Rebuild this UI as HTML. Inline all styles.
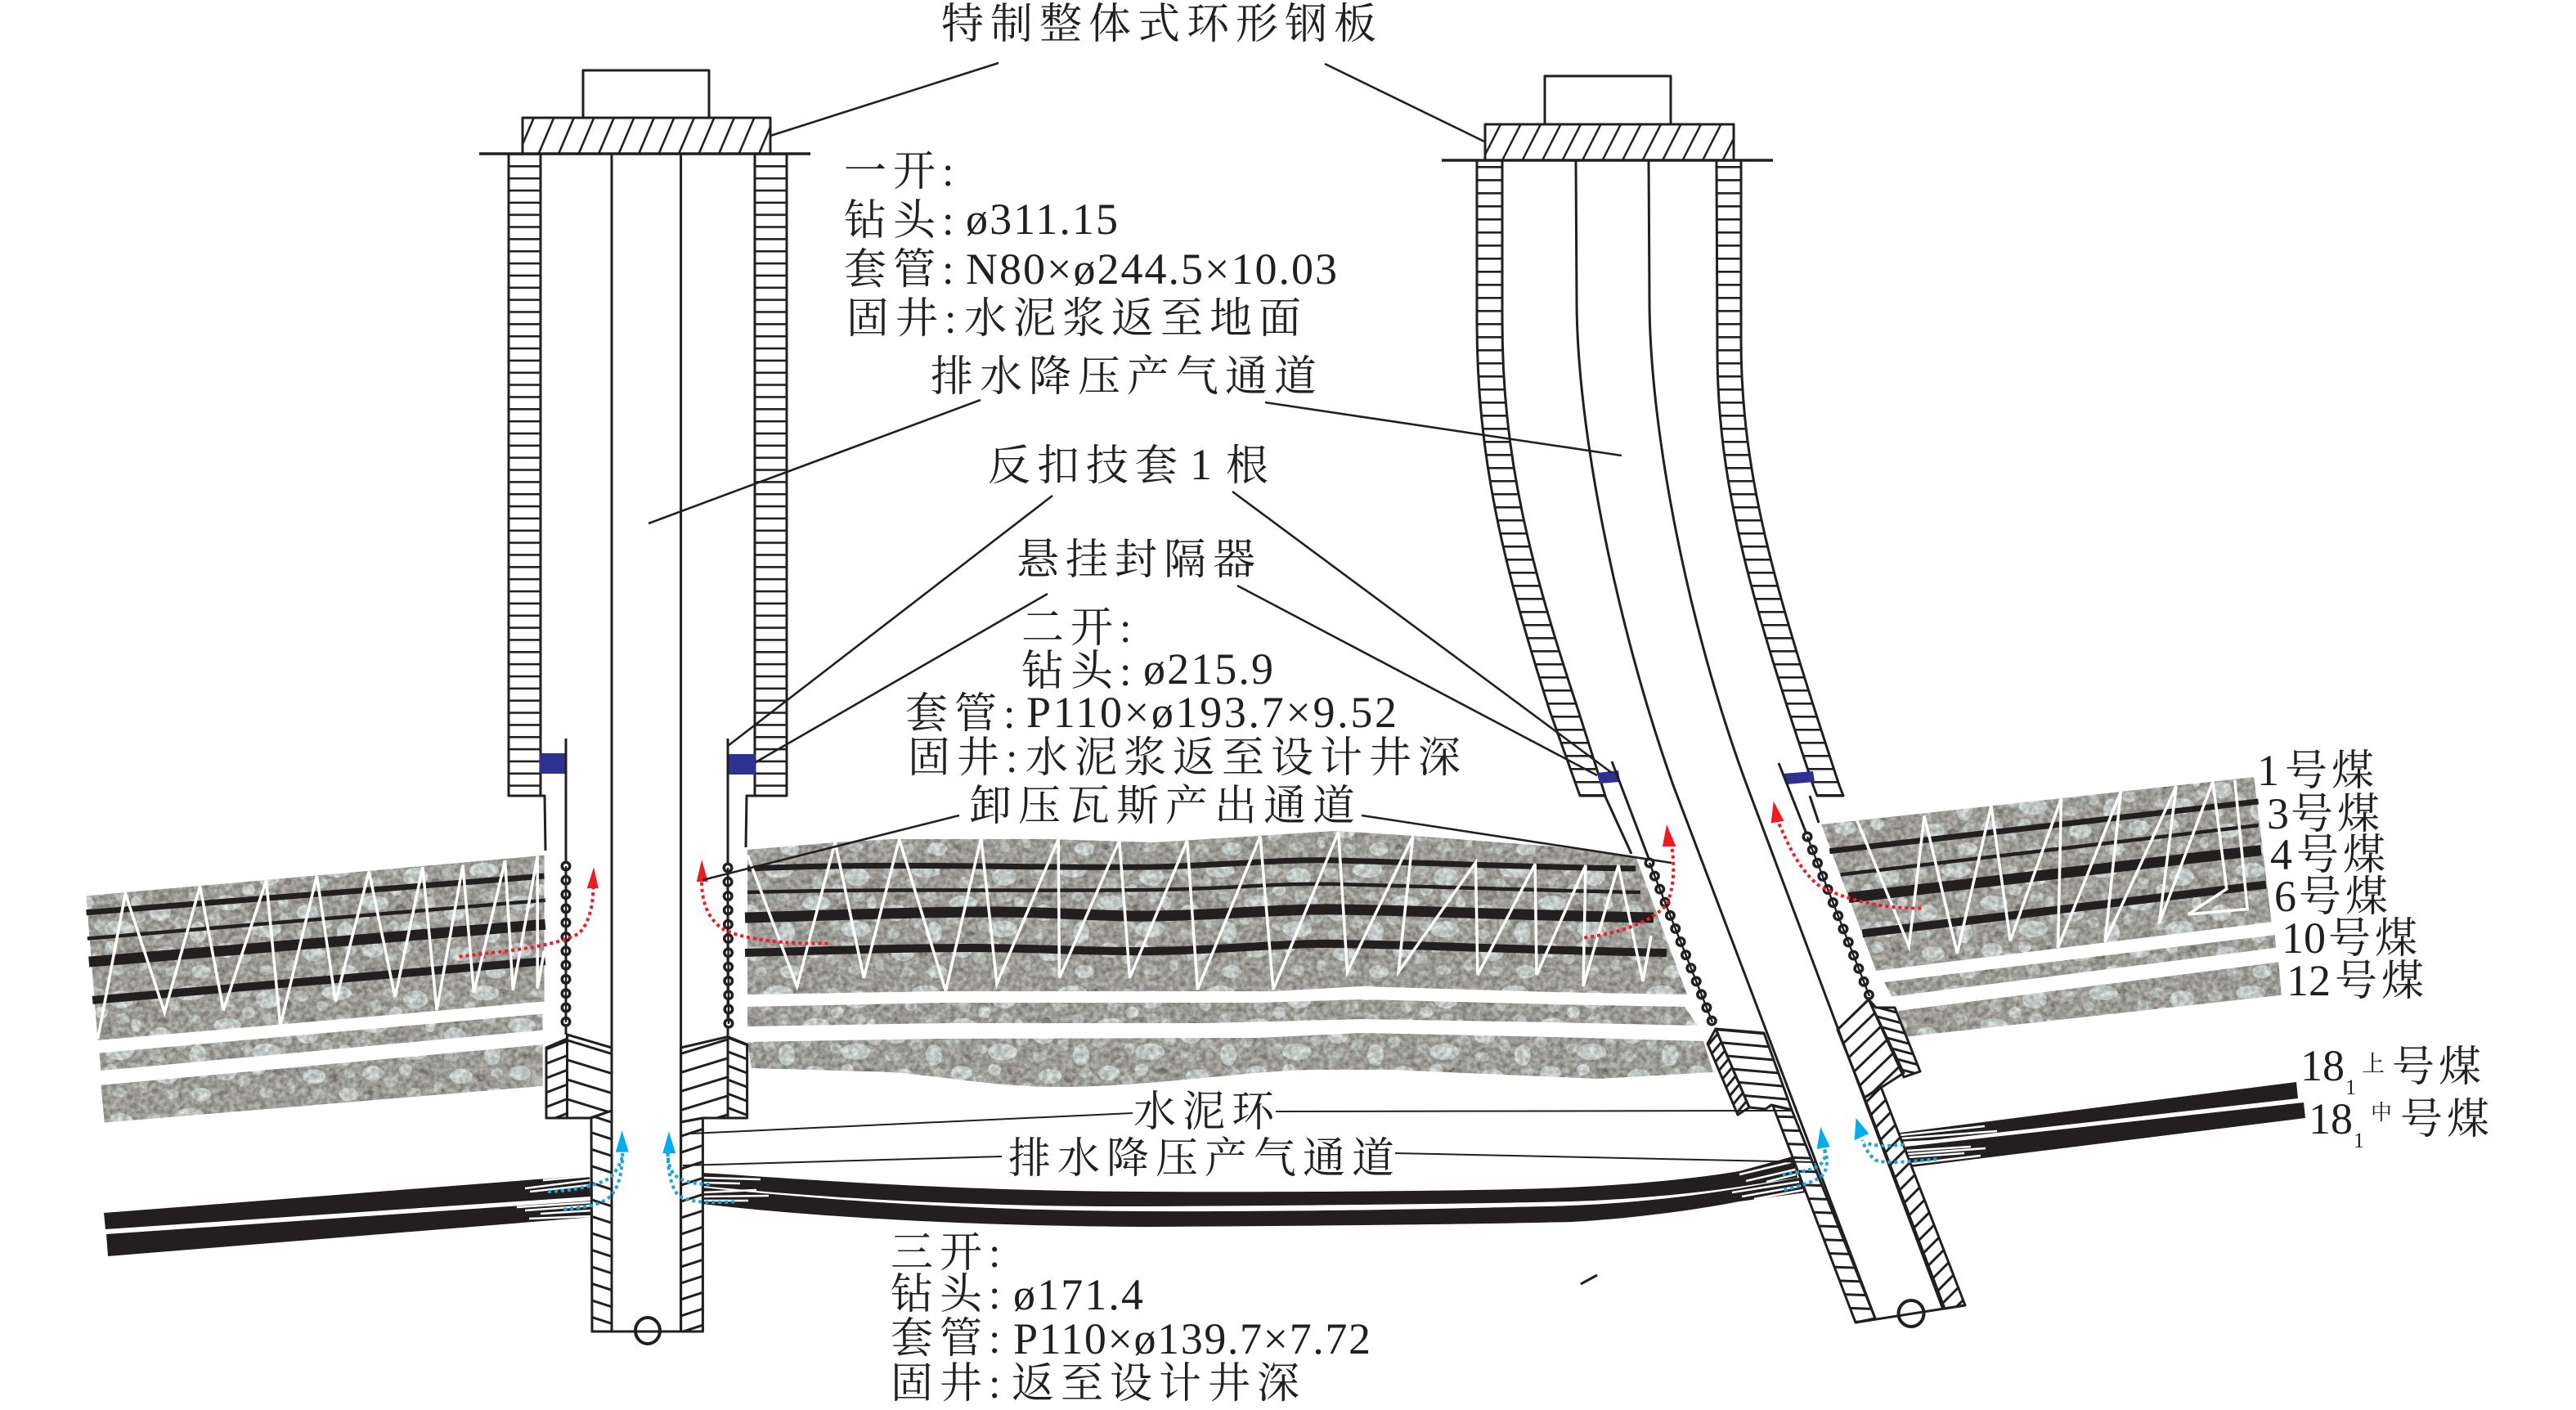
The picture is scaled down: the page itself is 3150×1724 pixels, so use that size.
<!DOCTYPE html>
<html lang="zh">
<head>
<meta charset="utf-8">
<title>井身结构示意图</title>
<style>
html,body{margin:0;padding:0;background:#fff}
svg{display:block}
text{font-family:"Liberation Serif","Noto Serif CJK SC",serif;fill:#231f20}
.c{font-size:52px;letter-spacing:8px;transform:translateY(2px)}
.d{font-size:54px;transform:translateY(1px)}
.n *{vector-effect:non-scaling-stroke}
.ln{fill:none;stroke:#231f20;stroke-width:3;stroke-linejoin:round}
.w{fill:none;stroke:#fff;stroke-width:3.5;stroke-linejoin:miter}
.wf{fill:none;stroke:#fff;stroke-width:2.6}
.s{fill:none;stroke:#231f20}
.red{fill:none;stroke:#ed1c24;stroke-width:4;stroke-dasharray:4 4}
.blue{fill:none;stroke:#1ba5dc;stroke-width:4;stroke-dasharray:4 4}
.k{fill:#231f20}
</style>
</head>
<body>
<svg xmlns="http://www.w3.org/2000/svg" width="3150" height="1724" viewBox="0 0 3150 1724">
<defs>
<pattern id="stone" patternUnits="userSpaceOnUse" width="180" height="150">
  <rect width="180" height="150" fill="#9c9a92"/>
  <g fill="#7d7870">
    <ellipse cx="20" cy="48" rx="7" ry="4"/><ellipse cx="75" cy="12" rx="8" ry="3"/><ellipse cx="130" cy="60" rx="6" ry="5"/><ellipse cx="160" cy="110" rx="8" ry="4"/><ellipse cx="48" cy="118" rx="6" ry="5"/><ellipse cx="105" cy="92" rx="6" ry="3"/><ellipse cx="92" cy="136" rx="7" ry="3"/><ellipse cx="172" cy="28" rx="5" ry="4"/>
  </g>
  <g fill="#bcc3be">
    <ellipse cx="8" cy="18" rx="9" ry="7"/><ellipse cx="34" cy="30" rx="7" ry="6"/><ellipse cx="58" cy="46" rx="8" ry="6"/><ellipse cx="100" cy="30" rx="7" ry="8"/><ellipse cx="118" cy="14" rx="9" ry="6"/><ellipse cx="150" cy="46" rx="8" ry="7"/><ellipse cx="170" cy="72" rx="8" ry="6"/><ellipse cx="122" cy="82" rx="7" ry="6"/><ellipse cx="84" cy="74" rx="8" ry="7"/><ellipse cx="40" cy="78" rx="7" ry="7"/><ellipse cx="12" cy="92" rx="9" ry="6"/><ellipse cx="30" cy="138" rx="8" ry="6"/><ellipse cx="68" cy="112" rx="7" ry="6"/><ellipse cx="118" cy="122" rx="8" ry="7"/><ellipse cx="146" cy="136" rx="9" ry="6"/><ellipse cx="176" cy="130" rx="6" ry="7"/>
  </g>
  <g fill="#d3dcd9">
    <ellipse cx="52" cy="14" rx="18" ry="9"/><ellipse cx="148" cy="22" rx="15" ry="11"/><ellipse cx="16" cy="66" rx="13" ry="10"/><ellipse cx="98" cy="54" rx="17" ry="9"/><ellipse cx="62" cy="90" rx="10" ry="13"/><ellipse cx="146" cy="86" rx="18" ry="10"/><ellipse cx="24" cy="116" rx="14" ry="9"/><ellipse cx="96" cy="112" rx="13" ry="9"/><ellipse cx="136" cy="108" rx="8" ry="7"/><ellipse cx="66" cy="138" rx="12" ry="8"/><ellipse cx="166" cy="54" rx="6" ry="8"/><ellipse cx="124" cy="38" rx="8" ry="7"/>
  </g>
</pattern>
<filter id="grainF" filterUnits="userSpaceOnUse" x="0" y="950" width="3150" height="500" color-interpolation-filters="sRGB">
  <feTurbulence type="fractalNoise" baseFrequency="0.16" numOctaves="2" seed="5"/>
  <feColorMatrix type="matrix" values="1.4 0 0 0 -.08  1.4 0 0 0 -.08  1.4 0 0 0 -.08  0 0 0 0 1"/>
</filter>
<clipPath id="rocks">
  <polygon transform="translate(80 880) scale(.6378 .5383)" points="40,400 918,308 918,640 62,728"/>
  <polygon transform="translate(80 880) scale(.6378 .5383)" points="65,757 915,668 915,705 68,797"/>
  <polygon transform="translate(80 880) scale(.6378 .5383)" points="68,830 915,738 915,832 75,915"/>
  <polygon points="914,1039 1021,1030 1091,1026 1283,1026 1410,1030 1538,1022 1633,1016 1729,1022 1900,1035 2000,1047 2063,1216 1900,1213 1665,1206 1557,1212 1155,1212 914,1216"/>
  <polygon points="914,1231 1155,1226 1538,1226 1665,1222 1900,1228 2060,1231 2076,1254 1900,1250 1665,1246 1474,1251 1155,1251 914,1255"/>
  <path d="M914 1274L1155 1270L1538 1269L1665 1263L1900 1268L2083 1273L2095 1311L1955 1319L1700 1308L1601 1308C1520 1310 1400 1329 1295 1329C1200 1329 1130 1310 1059 1310L919 1306Z"/>
  <polygon transform="translate(2100 880) scale(.6696 .3508)" points="190,365 980,200 1012,705 290,875"/>
  <polygon transform="translate(2100 880) scale(.6696 .3508)" points="305,915 1018,750 1020,795 318,965"/>
  <polygon transform="translate(2100 880) scale(.6696 .3508)" points="330,1015 1025,845 1030,960 345,1105"/>
</clipPath>
<pattern id="r1" patternUnits="userSpaceOnUse" x="0" y="202" width="10" height="14.85"><rect width="10" height="2.6" fill="#231f20"/></pattern>
<pattern id="r2" patternUnits="userSpaceOnUse" x="0" y="203" width="10" height="16"><rect width="10" height="2.6" fill="#231f20"/></pattern>
<pattern id="pl" patternUnits="userSpaceOnUse" x="639" width="24.5" height="44" patternTransform="skewX(-23)"><rect width="2.8" height="44" fill="#231f20"/></pattern>
<pattern id="pr" patternUnits="userSpaceOnUse" x="0" width="24.5" height="44" patternTransform="skewX(-27)"><rect width="2.8" height="44" fill="#231f20"/></pattern>
<pattern id="a1" patternUnits="userSpaceOnUse" width="10" height="16.5" patternTransform="rotate(-21)"><rect width="10" height="3" fill="#231f20"/></pattern>
<pattern id="a2" patternUnits="userSpaceOnUse" width="10" height="23" patternTransform="rotate(17)"><rect width="10" height="3" fill="#231f20"/></pattern>
<pattern id="a3" patternUnits="userSpaceOnUse" width="10" height="22" patternTransform="rotate(-17)"><rect width="10" height="3" fill="#231f20"/></pattern>
<pattern id="a4" patternUnits="userSpaceOnUse" width="10" height="16" patternTransform="rotate(21)"><rect width="10" height="3" fill="#231f20"/></pattern>
<pattern id="a5" patternUnits="userSpaceOnUse" width="10" height="19.5" patternTransform="rotate(18)"><rect width="10" height="3" fill="#231f20"/></pattern>
<pattern id="a6" patternUnits="userSpaceOnUse" width="10" height="19" patternTransform="rotate(-18)"><rect width="10" height="3" fill="#231f20"/></pattern>
<pattern id="b1" patternUnits="userSpaceOnUse" width="10" height="15.5" patternTransform="rotate(5)"><rect width="10" height="3" fill="#231f20"/></pattern>
<pattern id="b2" patternUnits="userSpaceOnUse" width="10" height="10" patternTransform="rotate(-50)"><rect width="10" height="3" fill="#231f20"/></pattern>
<pattern id="b3" patternUnits="userSpaceOnUse" width="10" height="16.5" patternTransform="rotate(2)"><rect width="10" height="3" fill="#231f20"/></pattern>
<pattern id="b4" patternUnits="userSpaceOnUse" width="10" height="17" patternTransform="rotate(-44)"><rect width="10" height="3" fill="#231f20"/></pattern>
<pattern id="b5" patternUnits="userSpaceOnUse" width="10" height="11" patternTransform="rotate(15)"><rect width="10" height="3" fill="#231f20"/></pattern>
<pattern id="b6" patternUnits="userSpaceOnUse" width="10" height="15" patternTransform="rotate(-45)"><rect width="10" height="3" fill="#231f20"/></pattern>
</defs>

<rect width="3150" height="1724" fill="#fff"/>

<!-- rock texture -->
<g clip-path="url(#rocks)">
  <rect x="0" y="950" width="3150" height="500" fill="url(#stone)"/>
  <rect x="0" y="950" width="3150" height="500" filter="url(#grainF)" opacity=".3"/>
</g>

<!-- left rock seams & fractures -->
<g class="n" transform="translate(80 880) scale(.6378 .5383)">
  <path class="s" style="stroke-width:7" d="M40 438L918 355"/>
  <path class="s" style="stroke-width:4.5" d="M42 497L920 410"/>
  <path class="s" style="stroke-width:13" d="M45 550L920 465"/>
  <path class="s" style="stroke-width:10" d="M52 637L920 548"/>
  <polyline class="w" points="62,725 115,395 190,665 258,378 303,660 385,365 412,695 482,355 518,640 582,345 632,630 685,335 712,660 762,330 783,620 843,320 858,615 905,310 905,610 918,525"/>
</g>
<!-- centre rock seams -->
<path class="s" style="stroke-width:7" d="M914 1062C1100 1054 1250 1062 1410 1060C1500 1058 1570 1050 1633 1052C1720 1054 1850 1060 2000 1062"/>
<path class="s" style="stroke-width:4.5" d="M914 1091C1100 1086 1250 1090 1410 1088C1500 1087 1570 1079 1633 1081C1720 1083 1850 1088 2006 1091"/>
<path class="s" style="stroke-width:13" d="M911 1122C1020 1119 1120 1115 1219 1115C1290 1115 1350 1121 1410 1120C1490 1119 1570 1111 1633 1112C1720 1113 1850 1119 2022 1122"/>
<path class="s" style="stroke-width:10" d="M911 1165C1020 1162 1100 1159 1187 1159C1270 1159 1340 1164 1410 1163C1490 1162 1570 1153 1633 1154C1720 1155 1850 1161 2038 1165"/>
<g class="n" transform="translate(900 960) scale(.6378 .3571)">
  <polyline class="w" points="22,240 117,690 190,195 245,660 313,185 402,705 470,180 500,680 618,185 620,660 735,190 755,660 865,190 885,700 1005,175 1030,700 1155,160 1172,640 1298,175 1270,640 1418,265 1422,650 1532,270 1535,650"/>
</g>
<polyline class="w" points="1879,1192 1939,1058 1936,1206 1979,1058 2009,1200 2019,1144"/>
<!-- right rock seams -->
<g class="n" transform="translate(2100 880) scale(.6696 .3508)">
  <path class="s" style="stroke-width:7" d="M205 458L988 285"/>
  <path class="s" style="stroke-width:4.5" d="M225 540L988 368"/>
  <path class="s" style="stroke-width:13" d="M240 620L993 455"/>
  <path class="s" style="stroke-width:10" d="M265 745L1002 575"/>
  <polyline class="w" points="255,350 350,790 378,335 438,815 500,300 535,770 628,275 622,795 737,250 708,775 838,232 807,710 905,215 930,590 860,678 968,660 945,210"/>
</g>

<!-- coal bands left -->
<polygon class="k" points="127,1483 721,1437 722,1463 129,1503"/>
<polygon class="k" points="130,1509 724,1468 725,1488 132,1536"/>
<path class="wf" d="M664 1443L721 1438M642 1453L721 1443M648 1457L721 1449M632 1476L724 1470M642 1480L724 1474M661 1484L724 1480M647 1490L724 1487"/>
<!-- long coal bands centre -->
<path class="k" d="M859 1434C960 1440 1150 1456 1400 1457C1600 1458 1800 1456 1891 1453C1980 1450 2060 1443 2127 1432L2192 1414L2198 1440L2127 1451C2060 1461 1980 1467 1923 1469C1800 1472 1600 1474 1400 1475C1150 1476 960 1460 859 1450Z"/>
<path class="k" d="M859 1452C960 1462 1150 1480 1400 1481C1600 1482 1800 1477 1891 1475C1980 1473 2060 1464 2127 1453L2200 1440L2208 1458L2127 1469C2060 1482 1980 1491 1923 1494C1800 1497 1600 1499 1400 1500C1150 1499 960 1484 859 1472Z"/>
<g class="wf">
  <path d="M859 1440L930 1442M859 1446L905 1447M859 1458L925 1455M859 1463L940 1462M859 1468L915 1468"/>
  <path d="M2127 1436L2190 1421M2135 1444L2195 1430M2160 1445L2196 1436M2118 1458L2200 1445M2130 1463L2202 1450M2145 1466L2205 1455"/>
</g>
<!-- coal bands right -->
<polygon class="k" points="2323,1385 2808,1323 2810,1343 2327,1398"/>
<polygon class="k" points="2330,1402 2817,1348 2819,1367 2337,1427"/>
<path class="wf" d="M2323 1388L2427 1377M2325 1392L2442 1383M2325 1397L2367 1395M2332 1407L2410 1402M2333 1411L2428 1404M2333 1415L2402 1410M2337 1423L2422 1413"/>

<!-- LEFT WELL -->
<rect x="713" y="86" width="154" height="58" class="ln"/>
<rect x="639" y="144" width="303" height="44" style="fill:url(#pl)" class="ln"/>
<path class="ln" style="stroke-width:3.5" d="M586 188H991"/>
<rect x="622" y="188" width="39" height="785" style="fill:url(#r1)" class="ln"/>
<rect x="923" y="188" width="39" height="785" style="fill:url(#r1)" class="ln"/>
<path class="ln" d="M748 188V1628M832.6 188V1628"/>
<rect x="660" y="921" width="33" height="25" fill="#2e3192"/>
<rect x="889" y="922" width="35" height="25" fill="#2e3192"/>
<path class="ln" d="M692 903V1265M890 903V1267M623 973H666L667 1040M962 973H913L912 1036"/>
<polygon class="ln" style="fill:url(#a1)" points="668,1281 693.5,1270 693.5,1367 668,1367"/>
<polygon class="ln" style="fill:url(#a2)" points="693.5,1265 748,1281 748,1358 721,1367 693.5,1367"/>
<polygon class="ln" style="fill:url(#a3)" points="832.6,1281 890,1267.6 890,1367 859.4,1367 832.6,1372"/>
<polygon class="ln" style="fill:url(#a4)" points="890,1267.6 913.6,1277 913.6,1367 890,1367"/>
<polygon class="ln" style="fill:url(#a5)" points="723,1367 748,1358 748,1628 724,1628"/>
<polygon class="ln" style="fill:url(#a6)" points="832.6,1372 859.4,1367 859.4,1628 832.6,1628"/>
<path class="ln" d="M724 1628H859"/>
<ellipse cx="792" cy="1627" rx="15" ry="16" fill="none" stroke="#231f20" stroke-width="4"/>

<!-- RIGHT WELL -->
<rect x="1889" y="93" width="154" height="59" class="ln"/>
<rect x="1816" y="152" width="304" height="44" style="fill:url(#pr)" class="ln"/>
<path class="ln" style="stroke-width:3.5" d="M1763 196H2168"/>
<path class="ln" style="fill:url(#r2)" d="M1806 196L1806 392C1806 560 1838 690 1895 869L1932 973H1963L1930 869C1871 690 1837 560 1837 392L1837 196Z"/>
<path class="ln" style="fill:url(#r2)" d="M2129 196L2129 416C2129 580 2170 720 2249 960L2254 973H2222L2217 960C2140 730 2100 590 2100 429L2099 196Z"/>
<path class="ln" d="M1927 196L1928 367C1928 520 1975 760 2046 960L2293 1612"/>
<path class="ln" d="M2016 196L2017 367C2017 520 2062 760 2136 960L2376 1601"/>
<polygon fill="#2e3192" points="1953,945 1979,942 1981,956 1956,958"/>
<polygon fill="#2e3192" points="2180,946 2217,943 2219,956 2185,959"/>
<path class="ln" d="M1971 931L2017 1052M2175 933L2210 1022M1963 974L1995 1044M2213 973L2224 1006"/>
<polygon class="ln" style="fill:url(#b1)" points="2098,1258 2157,1263 2191,1357 2166,1351 2159,1356 2139,1354"/>
<polygon class="ln" style="fill:url(#b2)" points="2088,1276 2098,1258 2139,1354 2125,1363"/>
<polygon class="ln" style="fill:url(#b3)" points="2168,1352 2191,1357 2293,1612 2269,1617"/>
<polygon class="ln" style="fill:url(#b4)" points="2247,1259 2285,1222 2328,1312 2303,1328 2280,1342"/>
<polygon class="ln" style="fill:url(#b5)" points="2285,1222 2294,1232 2317,1232 2348,1310 2328,1317"/>
<polygon class="ln" style="fill:url(#b6)" points="2280,1342 2300,1329 2403,1596 2378,1600"/>
<path class="ln" d="M2269 1617L2403 1596"/>
<ellipse cx="2337" cy="1606" rx="15.5" ry="16" fill="none" stroke="#231f20" stroke-width="4"/>
<path class="ln" d="M1933 1570L1953 1559"/>

<!-- beaded strings -->
<g fill="none" stroke-linecap="round" stroke-dasharray="0 17.3">
  <g stroke="#231f20" stroke-width="13">
    <path d="M692 1059V1250"/><path d="M890 1061L891 1252"/>
    <path d="M2017 1055L2094 1250"/><path d="M2210 1023L2286 1218"/>
  </g>
  <g stroke="#fff" stroke-width="6">
    <path d="M692 1059V1250"/><path d="M890 1061L891 1252"/>
    <path d="M2017 1055L2094 1250"/><path d="M2210 1023L2286 1218"/>
  </g>
</g>
<path class="ln" style="stroke-width:2.4" d="M692 1059V1250M890 1061L891 1252M2017 1055L2094 1250M2210 1023L2286 1218"/>

<!-- flow arrows -->
<g class="n" transform="translate(80 880) scale(.6378 .5383)">
  <path class="red" d="M755 538C850 525 940 515 985 485C1005 460 1012 420 1012 378"/>
  <polygon fill="#ed1c24" points="1013,335 1000,383 1022,383"/>
  <path class="red" d="M1462 508C1380 510 1300 500 1260 475C1230 450 1220 410 1220 368"/>
  <polygon fill="#ed1c24" points="1220,318 1210,368 1232,368"/>
  <path class="blue" d="M925 1072C975 1070 1020 1058 1045 1040C1060 1020 1068 1000 1068 985"/>
  <path class="blue" d="M955 1112C1000 1108 1035 1100 1050 1075C1065 1050 1068 1010 1068 985"/>
  <polygon fill="#00aeef" points="1067,933 1055,982 1080,982"/>
  <path class="blue" d="M1235 1055C1200 1055 1175 1045 1165 1030C1157 1015 1155 1000 1155 985"/>
  <path class="blue" d="M1283 1095C1240 1097 1195 1098 1175 1080C1160 1060 1155 1020 1155 985"/>
  <polygon fill="#00aeef" points="1157,935 1145,985 1170,985"/>
</g>
<g class="n" transform="translate(1700 880) scale(.6378 .5383)">
  <path class="red" d="M372 495C440 485 500 460 530 420C545 380 545 330 540 290"/>
  <polygon fill="#ed1c24" points="530,238 522,288 548,288"/>
  <path class="red" d="M1018 428C950 430 870 410 820 375C785 340 765 290 745 235"/>
  <polygon fill="#ed1c24" points="735,185 730,235 755,230"/>
  <path class="blue" d="M752 1033C790 1028 815 1020 825 1010C835 1000 835 985 832 975"/>
  <path class="blue" d="M755 1068C790 1058 825 1045 832 1030C840 1010 838 990 832 975"/>
  <polygon fill="#00aeef" points="825,925 818,975 843,970"/>
  <path class="blue" d="M985 965C950 970 925 968 910 960"/>
  <path class="blue" d="M1048 998C1000 1003 950 1010 930 1000C915 985 910 970 905 955"/>
  <polygon fill="#00aeef" points="893,905 890,955 918,940"/>
</g>

<!-- leader lines -->
<g class="ln" style="stroke-width:2.6">
  <path d="M942 166L1221 77M1620 78L1815 173"/>
  <path d="M1199 489L793 640M1547 492L1983 557"/>
  <path d="M1287 606L890 912M1507 601L1971 945"/>
  <path d="M1281 726L924 932M1513 716L1953 948"/>
  <path d="M1173 997L859 1076M1665 997L2044 1055"/>
</g>
<g class="ln" style="stroke-width:2">
  <path d="M845 1386L1385 1361M1560 1359L2191 1358"/>
  <path d="M835 1425L1225 1414M1706 1410L2220 1421"/>
</g>

<!-- labels -->
<text class="c" x="1151" y="45">特制整体式环形钢板</text>
<text class="c" x="1032" y="225">一开:</text>
<text class="c" x="1032" y="285">钻头:</text><text class="d" x="1181" y="285" textLength="186">ø311.15</text>
<text class="c" x="1032" y="345">套管:</text><text class="d" x="1181" y="346" textLength="454">N80×ø244.5×10.03</text>
<text class="c" x="1035" y="405">固井:</text><text class="c" x="1179" y="405">水泥浆返至地面</text>
<text class="c" x="1138" y="476">排水降压产气通道</text>
<text class="c" x="1208" y="585">反扣技套</text><text class="d" x="1455" y="585">1</text><text class="c" x="1499" y="585">根</text>
<text class="c" x="1243" y="700">悬挂封隔器</text>
<text class="c" x="1249" y="783">二开:</text>
<text class="c" x="1249" y="836">钻头:</text><text class="d" x="1398" y="835" textLength="159">ø215.9</text>
<text class="c" x="1107" y="888">套管:</text><text class="d" x="1255" y="888" textLength="453">P110×ø193.7×9.52</text>
<text class="c" x="1110" y="942">固井:</text><text class="c" x="1254" y="942">水泥浆返至设计井深</text>
<text class="c" x="1185" y="1001">卸压瓦斯产出通道</text>
<text class="c" x="1386" y="1375">水泥环</text>
<text class="c" x="1233" y="1432">排水降压产气通道</text>
<text class="c" x="1089" y="1547">三开:</text>
<text class="c" x="1089" y="1598">钻头:</text><text class="d" x="1239" y="1600" textLength="159">ø171.4</text>
<text class="c" x="1089" y="1652">套管:</text><text class="d" x="1239" y="1654" textLength="437">P110×ø139.7×7.72</text>
<text class="c" x="1089" y="1707">固井:</text><text class="c" x="1237" y="1707">返至设计井深</text>

<text class="d" x="2760" y="959">1</text><text class="c" x="2794" y="958" style="letter-spacing:5px">号煤</text>
<text class="d" x="2772" y="1012">3</text><text class="c" x="2801" y="1011" style="letter-spacing:5px">号煤</text>
<text class="d" x="2776" y="1062">4</text><text class="c" x="2808" y="1061" style="letter-spacing:5px">号煤</text>
<text class="d" x="2781" y="1113">6</text><text class="c" x="2811" y="1112" style="letter-spacing:5px">号煤</text>
<text class="d" x="2790" y="1164">10</text><text class="c" x="2847" y="1163" style="letter-spacing:5px">号煤</text>
<text class="d" x="2796" y="1216">12</text><text class="c" x="2855" y="1215" style="letter-spacing:5px">号煤</text>
<text class="d" x="2813" y="1320">18</text><text x="2868" y="1338" font-size="26">1</text><text x="2888" y="1310" font-size="28">上</text><text class="c" x="2925" y="1320" style="letter-spacing:5px">号煤</text>
<text class="d" x="2823" y="1385">18</text><text x="2878" y="1403" font-size="26">1</text><text x="2899" y="1369" font-size="26">中</text><text class="c" x="2935" y="1384" style="letter-spacing:5px">号煤</text>
</svg>
</body>
</html>
